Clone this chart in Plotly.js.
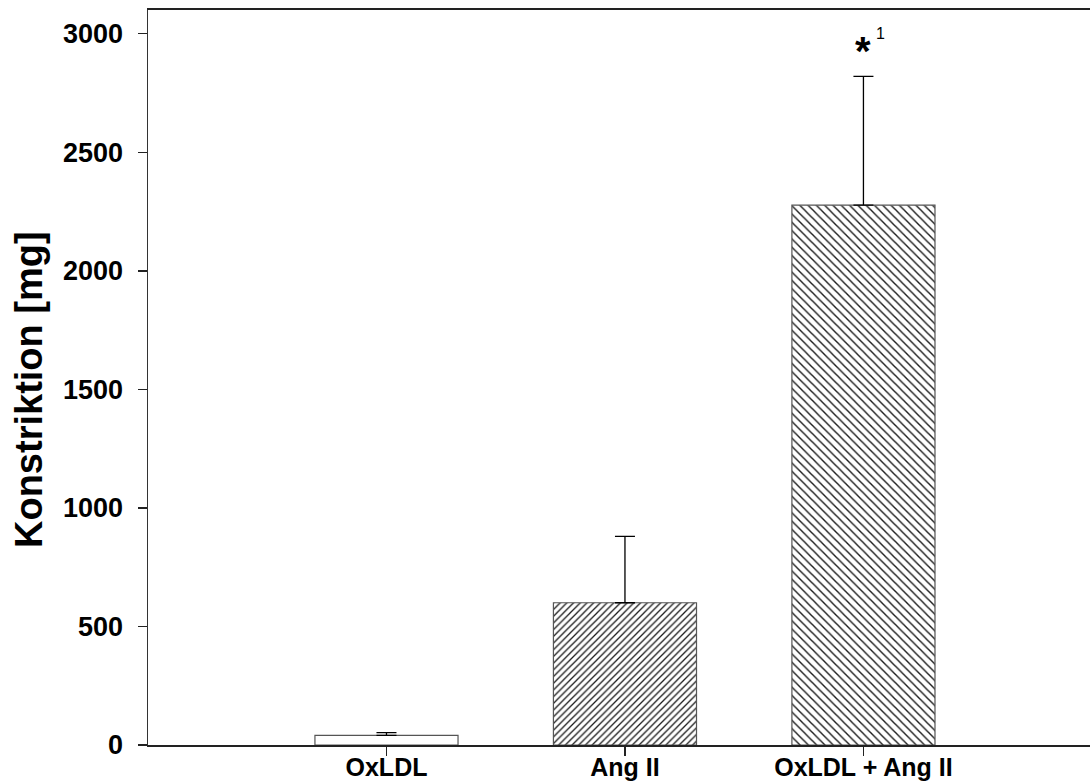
<!DOCTYPE html>
<html>
<head>
<meta charset="utf-8">
<script src="https://cdn.plot.ly/plotly-3.0.1.min.js"></script>
<style>html,body{margin:0;padding:0;background:#fff;}#chart{width:1091px;height:781px;}#hatchdefs{position:absolute;left:0;top:0;width:0;height:0;}</style>
</head>
<body>
<svg id="hatchdefs" xmlns="http://www.w3.org/2000/svg" width="0" height="0"><defs></defs></svg>
<div id="chart"></div>
<script>
const categories = ['OxLDL', 'Ang II', 'OxLDL + Ang II'];
const means = [41, 600, 2277];
const errorsUp = [11, 280, 543];
const patterns = ['', '/', '\\'];
const yTicks = [0, 500, 1000, 1500, 2000, 2500, 3000];
const yTitle = 'Konstriktion [mg]';
const sigMark = '*';
const sigNote = '1';

const FONT = 'Liberation Sans, Arial, sans-serif';
const patSizes = [5, 4.8, 6];
const patSolidity = [0.3, 0.3, 0.26];

const traces = categories.map((c, i) => ({
  type: 'bar',
  x: [c],
  y: [means[i]],
  width: 0.6,
  marker: {
    color: '#ffffff',
    line: {color: '#555555', width: 1.2},
    pattern: {shape: patterns[i], size: patSizes[i], solidity: patSolidity[i], fgcolor: '#1a1a1a', bgcolor: '#ffffff', fillmode: 'replace'}
  },
  error_y: {
    type: 'data', symmetric: false, array: [errorsUp[i]], arrayminus: [0],
    color: '#000000', thickness: 1.3, width: 10
  },
  hoverinfo: 'none'
}));

const layout = {
  width: 1091, height: 781,
  margin: {l: 148, r: 1, t: 10, b: 36},
  paper_bgcolor: '#ffffff', plot_bgcolor: '#ffffff',
  showlegend: false,
  barmode: 'overlay',
  font: {family: FONT, color: '#000000'},
  xaxis: {
    type: 'category',
    categoryorder: 'array', categoryarray: categories,
    range: [-1, 2.95],
    showline: true, linecolor: '#222222', linewidth: 2,
    mirror: true,
    ticks: 'outside', ticklen: 9, tickwidth: 1.5, tickcolor: '#222222',
    ticklabelstandoff: -10,
    tickfont: {family: FONT, size: 25, color: '#000000', weight: 'bold'},
    showgrid: false, zeroline: false
  },
  yaxis: {
    range: [0, 3100],
    tickvals: yTicks,
    showline: true, linecolor: '#333333', linewidth: 1.5,
    ticks: 'outside', ticklen: 9, tickwidth: 1.5, tickcolor: '#222222',
    ticklabelstandoff: 9,
    tickfont: {family: FONT, size: 27, color: '#000000', weight: 'bold'},
    showgrid: false, zeroline: false
  },
  annotations: [
    {xref: 'paper', yref: 'paper', x: 0, y: 0.483, xshift: -119, text: yTitle, textangle: -90,
     showarrow: false, xanchor: 'center', yanchor: 'middle',
     font: {family: FONT, size: 38, color: '#000000', weight: 'bold'}},
    {xref: 'x', yref: 'y', x: 2, y: 2925, text: sigMark, showarrow: false,
     font: {family: FONT, size: 40, color: '#000000', weight: 'bold'}, yanchor: 'middle', xanchor: 'center'},
    {xref: 'x', yref: 'y', x: 2, y: 3000, xshift: 17, text: sigNote, showarrow: false,
     font: {family: FONT, size: 16, color: '#000000'}, yanchor: 'middle', xanchor: 'center'}
  ]
};

// Explicit hatch fills: '/' runs bottom-left to top-right, '\' top-left to bottom-right.
const hatchStyles = {
  '/': {id: 'hatch-fwd', s: 6.7, w: 1.3},
  '\\': {id: 'hatch-back', s: 8.3, w: 1.4}
};
function buildHatchDefs() {
  const ns = 'http://www.w3.org/2000/svg';
  const defs = document.querySelector('#hatchdefs defs');
  Object.keys(hatchStyles).forEach(k => {
    const h = hatchStyles[k], s = h.s;
    const pat = document.createElementNS(ns, 'pattern');
    pat.setAttribute('id', h.id);
    pat.setAttribute('patternUnits', 'userSpaceOnUse');
    pat.setAttribute('width', s);
    pat.setAttribute('height', s);
    const bg = document.createElementNS(ns, 'rect');
    bg.setAttribute('x', 0); bg.setAttribute('y', 0);
    bg.setAttribute('width', s); bg.setAttribute('height', s);
    bg.setAttribute('fill', '#ffffff');
    pat.appendChild(bg);
    const p = document.createElementNS(ns, 'path');
    const d = (k === '/')
      ? `M0,${s}L${s},0M${-s/2},${s/2}L${s/2},${-s/2}M${s/2},${1.5*s}L${1.5*s},${s/2}`
      : `M0,0L${s},${s}M${s/2},${-s/2}L${1.5*s},${s/2}M${-s/2},${s/2}L${s/2},${1.5*s}`;
    p.setAttribute('d', d);
    p.setAttribute('stroke', '#1a1a1a');
    p.setAttribute('stroke-width', h.w);
    p.setAttribute('fill', 'none');
    pat.appendChild(p);
    defs.appendChild(pat);
  });
}
function applyHatch() {
  const gd = document.getElementById('chart');
  const paths = gd.querySelectorAll('.barlayer .point path');
  paths.forEach((p, i) => {
    const h = hatchStyles[patterns[i]];
    if (h) p.style.fill = `url(#${h.id})`;
  });
}

buildHatchDefs();
const pr = Plotly.newPlot('chart', traces, layout, {displayModeBar: false, staticPlot: true});
applyHatch();
pr.then(applyHatch);
setTimeout(applyHatch, 30);
</script>
</body>
</html>
